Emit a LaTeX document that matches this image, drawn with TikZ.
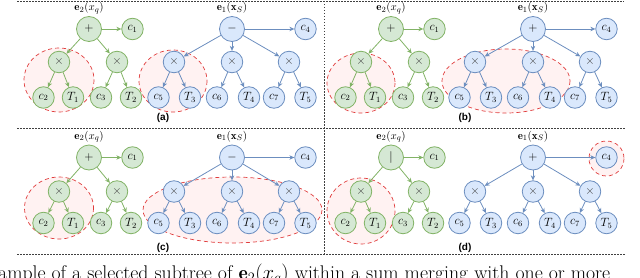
\documentclass[tikz,border=0pt]{standalone}
\usepackage{fontspec}
\newfontfamily\labfont{Liberation Sans}
\usetikzlibrary{arrows.meta}
\definecolor{gfill}{HTML}{D5E8D4}
\definecolor{gline}{HTML}{82B366}
\definecolor{bfill}{HTML}{DAE8FC}
\definecolor{bline}{HTML}{6C8EBF}
\definecolor{selred}{HTML}{E03C3C}
\definecolor{selfill}{HTML}{FFF2F2}
\tikzset{
  gnode/.style={circle, draw=gline, fill=gfill, line width=0.8pt, minimum size=21.5pt, inner sep=0pt, font=\fontsize{12}{14}\selectfont},
  groot/.style={gnode, minimum size=25pt},
  bnode/.style={circle, draw=bline, fill=bfill, line width=0.8pt, minimum size=21.5pt, inner sep=0pt, font=\fontsize{12}{14}\selectfont},
  broot/.style={bnode, minimum size=25pt},
  garr/.style={draw=gline, line width=0.8pt, -{Stealth[length=5pt,width=4.5pt]}},
  barr/.style={draw=bline, line width=0.8pt, -{Stealth[length=5pt,width=4.5pt]}},
  sel/.style={draw=selred, fill=selfill, line width=0.7pt, dash pattern=on 4pt off 3pt},
  sep/.style={draw=black!75, line width=0.6pt, dash pattern=on 1.5pt off 1.5pt},
  tlabel/.style={font=\fontsize{11}{13}\selectfont, inner sep=0pt},
  plabel/.style={font=\labfont\bfseries\fontsize{10}{12}\selectfont, inner sep=0pt},
  mul/.style={text=black!75}
}
% green tree: #1 prefix, #2 root x, #3 root y, #4 mid y, #5 leaf y, #6 root symbol
\newcommand{\gtree}[6]{%
  \node[tlabel] (#1lab) at (#2,#3-21) {$\mathbf{e}_2(x_q)$};
  \node[groot] (#1r) at (#2,#3) {$#6$};
  \node[gnode] (#1c1) at (#2+43.5,#3) {$c_1$};
  \node[gnode,mul] (#1xl) at (#2-30,#4) {$\times$};
  \node[gnode,mul] (#1xr) at (#2+28,#4) {$\times$};
  \node[gnode] (#1c2) at (#2-45.5,#5) {$c_2$};
  \node[gnode] (#1t1) at (#2-16,#5) {$T_1$};
  \node[gnode] (#1c3) at (#2+12,#5) {$c_3$};
  \node[gnode] (#1t2) at (#2+42,#5) {$T_2$};
  \draw[garr] (#1r) -- (#1c1);
  \draw[garr] (#1r) -- (#1xl);
  \draw[garr] (#1r) -- (#1xr);
  \draw[garr] (#1xl) -- (#1c2);
  \draw[garr] (#1xl) -- (#1t1);
  \draw[garr] (#1xr) -- (#1c3);
  \draw[garr] (#1xr) -- (#1t2);
}
% blue tree
\newcommand{\btree}[6]{%
  \node[tlabel] (#1lab) at (#2,#3-21) {$\mathbf{e}_1(\mathbf{x}_S)$};
  \node[broot] (#1r) at (#2,#3) {$#6$};
  \node[bnode] (#1c4) at (#2+73.5,#3) {$c_4$};
  \node[bnode,mul] (#1xa) at (#2-58,#4) {$\times$};
  \node[bnode,mul] (#1xb) at (#2,#4) {$\times$};
  \node[bnode,mul] (#1xc) at (#2+57,#4) {$\times$};
  \node[bnode] (#1c5) at (#2-73.5,#5) {$c_5$};
  \node[bnode] (#1t3) at (#2-42,#5) {$T_3$};
  \node[bnode] (#1c6) at (#2-15,#5) {$c_6$};
  \node[bnode] (#1t4) at (#2+17,#5) {$T_4$};
  \node[bnode] (#1c7) at (#2+42,#5) {$c_7$};
  \node[bnode] (#1t5) at (#2+73.5,#5) {$T_5$};
  \draw[barr] (#1r) -- (#1c4);
  \draw[barr] (#1r) -- (#1xa);
  \draw[barr] (#1r) -- (#1xb);
  \draw[barr] (#1r) -- (#1xc);
  \draw[barr] (#1xa) -- (#1c5);
  \draw[barr] (#1xa) -- (#1t3);
  \draw[barr] (#1xb) -- (#1c6);
  \draw[barr] (#1xb) -- (#1t4);
  \draw[barr] (#1xc) -- (#1c7);
  \draw[barr] (#1xc) -- (#1t5);
}
\begin{document}
\begin{tikzpicture}[x=1pt,y=-1pt]
\useasboundingbox (0,0) rectangle (640,278);
\clip (0,0) rectangle (640,278);
% separators
\draw[sep] (17,1) -- (624,1);
\draw[sep] (17,128) -- (625,128);
\draw[sep] (17,254) -- (625,254);
\draw[sep] (324.5,1) -- (324.5,254);
% selections
\draw[sel] (59,80) ellipse [x radius=35, y radius=32];
\draw[sel] (173,81) ellipse [x radius=34, y radius=31];
\draw[sel] (361,83) ellipse [x radius=34, y radius=30];
\draw[sel] (506,81) ellipse [x radius=64, y radius=32];
\draw[sel] (59,208) ellipse [x radius=34.5, y radius=31];
\draw[sel] (232.5,210) ellipse [x radius=89.5, y radius=33];
\draw[sel] (361,211) ellipse [x radius=34, y radius=33];
\draw[sel] (606.5,158.5) circle [radius=17.5];
% trees
\gtree{a}{89}{29}{62}{97.5}{+}
\btree{A}{232}{29}{62}{97.5}{-}
\gtree{b}{391}{29}{62}{97.5}{+}
\btree{B}{533}{29}{62}{97.5}{+}
\gtree{c}{89}{157.5}{191.5}{223}{+}
\btree{C}{232}{157.5}{191.5}{223}{-}
\gtree{d}{391}{157.5}{191.5}{223}{|}
\btree{D}{533}{157.5}{191.5}{223}{+}
% panel labels
\node[plabel] (pa) at (163,118) {(a)};
\node[plabel] (pb) at (465,118) {(b)};
\node[plabel] (pc) at (163,248) {(c)};
\node[plabel] (pd) at (465,248) {(d)};
% caption (cut off at the lower edge)
\node[anchor=base west, inner sep=0pt, font=\fontsize{19.8}{22}\selectfont] (cap) at (-2,279.5) {ample of a selected subtree of $\mathbf{e}_2(x_q)$ within a sum merging with one or more};
\end{tikzpicture}
\end{document}
